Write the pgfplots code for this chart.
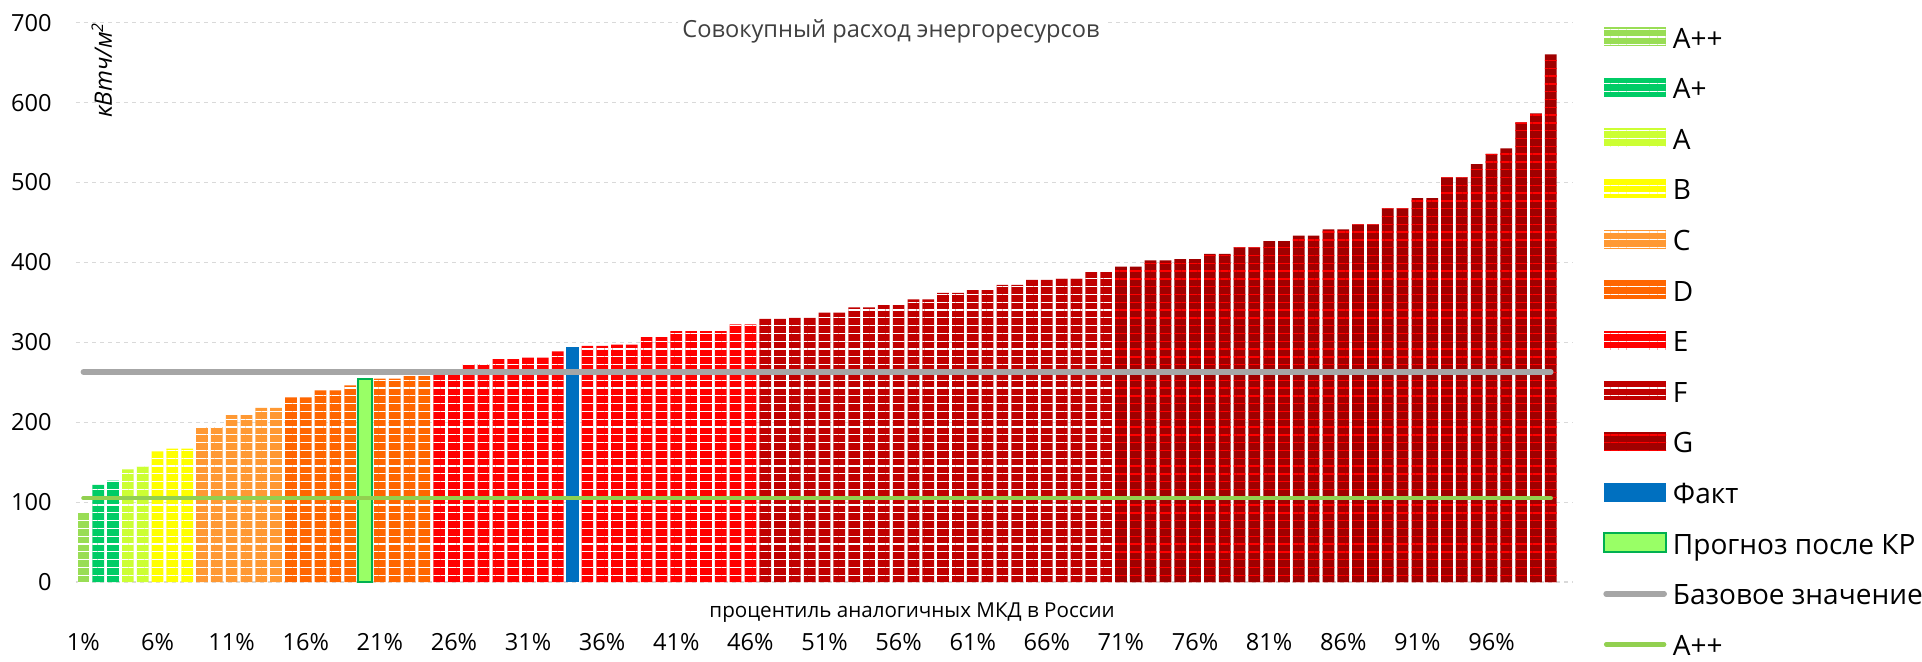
\documentclass[border=0pt]{standalone}
\usepackage{pgfplots}
\pgfplotsset{compat=1.18}
\usetikzlibrary{patterns.meta}
\usepackage{fontspec}
\setmainfont{Open Sans}
\definecolor{cApp}{HTML}{99DD55}
\definecolor{cAp}{HTML}{00CC66}
\definecolor{cA}{HTML}{CCFF33}
\definecolor{cB}{HTML}{FFFF00}
\definecolor{cC}{HTML}{FF9933}
\definecolor{cD}{HTML}{FF6600}
\definecolor{cE}{HTML}{FF0000}
\definecolor{cF}{HTML}{C00000}
\definecolor{cG}{HTML}{A00000}
\definecolor{cFact}{HTML}{0070C0}
\definecolor{cProg}{HTML}{99FF66}
\definecolor{cProgB}{HTML}{00B050}
\definecolor{cBase}{HTML}{A6A6A6}
\definecolor{cLine}{HTML}{92D050}
\definecolor{cGrid}{HTML}{D9D9D9}
\definecolor{cTitle}{HTML}{404040}
\tikzset{
  stripes/.style={postaction={fill opacity=#1, pattern={Lines[angle=0,distance=3.9pt,line width=0.6pt]}, pattern color=white}},
  redstripes/.style={postaction={fill opacity=#1, pattern={Lines[angle=0,distance=3.9pt,line width=0.7pt]}, pattern color=red}},
}
\pgfplotsset{
  barleg/.style={legend image code/.code={\fill[##1] (0pt,-3pt) rectangle (31pt,6.5pt);}},
  lineleg/.style={legend image code/.code={\draw[##1] (1pt,1.5pt) -- (30pt,1.5pt);}},
  every axis title/.style={at={(axis description cs:0.5444,0.9852)}, anchor=center, fill=white, inner sep=2pt, text=cTitle, font=\fontsize{11.8}{14}\selectfont},
}
\begin{document}
\begin{tikzpicture}
\useasboundingbox (0,0) rectangle (961pt,330.5pt);
\begin{axis}[
  at={(38pt,39.5pt)}, anchor=south west,
  scale only axis, width=748.5pt, height=279.65pt,
  xmin=0.5, xmax=101.5, ymin=0, ymax=700,
  ybar, bar shift=0pt, bar width=0.79,
  axis line style={draw=none}, major tick length=0pt,
  ytick={0,100,...,700},
  xtick={1,6,...,96},
  xticklabel={\pgfmathprintnumber{\tick}\%},
  /pgf/number format/assume math mode=true,
  ymajorgrids, grid style={cGrid, dash pattern=on 2pt off 2pt, line width=0.6pt},
  tick label style={font=\fontsize{11.8}{13}\selectfont, text=black},
  yticklabel style={anchor=east, inner sep=0pt, xshift=-12pt},
  xticklabel style={anchor=center, inner sep=0pt, yshift=-30pt},
  title={Совокупный расход энергоресурсов},
  xlabel={процентиль аналогичных МКД в России},
  xlabel style={at={(axis description cs:0.5585,-0.0547)}, anchor=center, inner sep=0pt, font=\fontsize{10.3}{13}\selectfont},
  ylabel={кВтч/м\textsuperscript{2}},
  ylabel style={at={(axis description cs:0.0172,0.9154)}, anchor=center, inner sep=0pt, font=\itshape\fontsize{12}{14}\selectfont},
  legend style={at={(1.02,0.9946)}, anchor=north west, draw=none, fill=none, inner sep=0pt, row sep=11.3pt,
    font=\fontsize{14}{17}\selectfont,
    nodes={inner xsep=3pt, inner ysep=0pt, text height=11pt, text depth=3pt}},
  legend cell align=left,
]
\addplot[fill=cApp, draw=none, stripes=0.55, barleg] coordinates {(1,86)};
\addlegendentry{A++}
\addplot[fill=cAp, draw=none, stripes=0.7, barleg] coordinates {(2,121.5) (3,127)};
\addlegendentry{A+}
\addplot[fill=cA, draw=none, stripes=0.55, barleg] coordinates {(4,141) (5,144.6)};
\addlegendentry{A}
\addplot[fill=cB, draw=none, stripes=0.55, barleg] coordinates {(6,163.6) (7,167) (8,167)};
\addlegendentry{B}
\addplot[fill=cC, draw=none, stripes=0.35, barleg] coordinates {(9,194) (10,194) (11,209) (12,209) (13,218) (14,218)};
\addlegendentry{C}
\addplot[fill=cD, draw=none, stripes=0.35, barleg] coordinates {(15,231) (16,231) (17,240) (18,240) (19,246) (21,254.6) (22,254.6) (23,257.6) (24,257.6)};
\addlegendentry{D}
\addplot[fill=cE, draw=none, stripes=0.35, barleg] coordinates {(25,261) (26,261) (27,272.7) (28,272.7) (29,279) (30,279) (31,280.7) (32,280.7) (33,288.7) (35,295.4) (36,295.4) (37,297) (38,297) (39,306.6) (40,306.6) (41,314) (42,314) (43,314) (44,314) (45,322.3) (46,322.3)};
\addlegendentry{E}
\addplot[fill=cF, draw=none, stripes=0.2, barleg] coordinates {(47,329.3) (48,329.3) (49,330.6) (50,330.6) (51,337.2) (52,337.2) (53,343.8) (54,343.8) (55,346.7) (56,346.7) (57,353.7) (58,353.7) (59,362) (60,362) (61,365.4) (62,365.4) (63,372) (64,372) (65,378.2) (66,378.2) (67,379.8) (68,379.8) (69,388) (70,388)};
\addlegendentry{F}
\addplot[fill=cG, draw=none, redstripes=0.8, barleg] coordinates {(71,394.7) (72,394.7) (73,402.5) (74,402.5) (75,404) (76,404) (77,410.7) (78,410.7) (79,418.7) (80,418.7) (81,426.7) (82,426.7) (83,433.4) (84,433.4) (85,441.3) (86,441.3) (87,447.6) (88,447.6) (89,467.6) (90,467.6) (91,480.5) (92,480.5) (93,506.4) (94,506.4) (95,523) (96,536) (97,542.7) (98,575.2) (99,586.5) (100,660.3)};
\addlegendentry{G}
\addplot[fill=cFact, draw=none, bar width=0.9, barleg] coordinates {(34,293.7)};
\addlegendentry{Факт}
\addplot[fill=cProg, draw=cProgB, line width=0.8pt, bar width=0.97, barleg] coordinates {(20,254)};
\addlegendentry{Прогноз после КР}
\addplot[sharp plot, no marks, cBase, line width=2.8pt, line cap=round, lineleg] coordinates {(1,263) (100,263)};
\addlegendentry{Базовое значение}
\addplot[sharp plot, no marks, cLine, line width=2.2pt, line cap=round, lineleg] coordinates {(1,105) (100,105)};
\addlegendentry{A++}
\end{axis}
\end{tikzpicture}
\end{document}
